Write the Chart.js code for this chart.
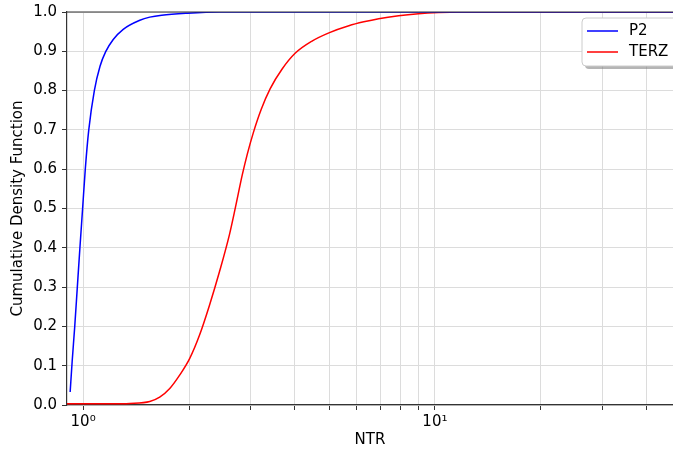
<!DOCTYPE html>
<html lang="en">
<head>
<meta charset="UTF-8">
<title>NTR CDF</title>
<script src="https://cdn.jsdelivr.net/npm/chart.js"></script>
<style>
    html, body { margin: 0; padding: 0; background: #fff; }
    #wrap { width: 673px; height: 455px; }
</style>
</head>
<body>
<div id="wrap"><canvas id="cdf"></canvas></div>
<script>
    // values
    const ntrP2 = [0.9188, 0.9308, 0.9468, 0.9629, 0.9794, 0.9968, 1.0144, 1.0378, 1.0764, 1.1171, 1.1594, 1.218, 1.3002, 1.4497, 1.547, 1.673, 1.982, 2.441, 3, 5, 10, 47.5];
    const cdfP2 = [0.033, 0.11, 0.2, 0.3, 0.4, 0.5, 0.6, 0.7, 0.8, 0.862, 0.899, 0.93, 0.956, 0.979, 0.987, 0.992, 0.997, 1.0, 1, 1, 1, 1];

    const ntrTerz = [0.9, 1.2, 1.358, 1.547, 1.651, 1.763, 1.881, 2.008, 2.143, 2.287, 2.441, 2.605, 2.709, 2.835, 2.929, 3.046, 3.209, 3.403, 3.679, 4.005, 4.473, 4.996, 5.692, 6.278, 6.92, 7.885, 8.98, 10.23, 11.65, 20, 47.5];
    const cdfTerz = [0.003, 0.003, 0.004, 0.009, 0.02, 0.042, 0.076, 0.118, 0.178, 0.254, 0.339, 0.433, 0.502, 0.586, 0.6385, 0.6925, 0.7525, 0.805, 0.855, 0.895, 0.926, 0.947, 0.965, 0.975, 0.983, 0.9905, 0.9955, 0.9985, 1.0, 1.0, 1.0];

    const xTicks = [1, 2, 3, 4, 5, 6, 7, 8, 9, 10, 20, 30, 40];
    const xTickLabels = { 1: '10\u2070', 10: '10\u00b9' };

    const font = 'DejaVu Sans';

    function toPoints(xs, ys) {
        return xs.map((x, i) => ({ x: x, y: ys[i] }));
    }

    // matplotlib-like legend box with shadow, plus the top spine
    const mplExtras = {
        id: 'mplExtras',
        afterDraw(chart) {
            const ctx = chart.ctx;
            const area = chart.chartArea;
            ctx.save();
            ctx.strokeStyle = '#333';
            ctx.lineWidth = 1.2;
            ctx.beginPath();
            ctx.moveTo(area.left, area.top);
            ctx.lineTo(area.right, area.top);
            ctx.stroke();

            const bx = 582, by = 18, bw = 100, bh = 48;
            ctx.fillStyle = 'rgba(120,120,120,0.55)';
            roundRect(ctx, bx + 3, by + 3, bw, bh, 4);
            ctx.fill();
            ctx.fillStyle = '#fff';
            ctx.strokeStyle = '#ccc';
            ctx.lineWidth = 1;
            roundRect(ctx, bx, by, bw, bh, 4);
            ctx.fill();
            ctx.stroke();

            ctx.font = '15px "' + font + '"';
            ctx.textBaseline = 'middle';
            chart.data.datasets.forEach((ds, i) => {
                const y = by + 13 + i * 21;
                ctx.strokeStyle = ds.borderColor;
                ctx.lineWidth = 1.5;
                ctx.beginPath();
                ctx.moveTo(bx + 5, y);
                ctx.lineTo(bx + 36, y);
                ctx.stroke();
                ctx.fillStyle = '#000';
                ctx.fillText(ds.label, bx + 47, y);
            });
            ctx.restore();
        }
    };

    function roundRect(ctx, x, y, w, h, r) {
        ctx.beginPath();
        ctx.moveTo(x + r, y);
        ctx.lineTo(x + w - r, y);
        ctx.quadraticCurveTo(x + w, y, x + w, y + r);
        ctx.lineTo(x + w, y + h - r);
        ctx.quadraticCurveTo(x + w, y + h, x + w - r, y + h);
        ctx.lineTo(x + r, y + h);
        ctx.quadraticCurveTo(x, y + h, x, y + h - r);
        ctx.lineTo(x, y + r);
        ctx.quadraticCurveTo(x, y, x + r, y);
        ctx.closePath();
    }

    new Chart(document.getElementById('cdf'), {
        type: 'line',
        data: {
            datasets: [
                {
                    label: 'P2',
                    data: toPoints(ntrP2, cdfP2),
                    borderColor: '#0000ff',
                    borderWidth: 1.5,
                    pointRadius: 0,
                    cubicInterpolationMode: 'monotone'
                },
                {
                    label: 'TERZ',
                    data: toPoints(ntrTerz, cdfTerz),
                    borderColor: '#ff0000',
                    borderWidth: 1.5,
                    pointRadius: 0,
                    cubicInterpolationMode: 'monotone'
                }
            ]
        },
        options: {
            responsive: true,
            maintainAspectRatio: false,
            animation: false,
            layout: { padding: { top: 12, right: 0, left: 0, bottom: 0 } },
            plugins: {
                legend: { display: false },
                tooltip: { enabled: false }
            },
            scales: {
                x: {
                    type: 'logarithmic',
                    min: 0.9,
                    max: 47.5,
                    afterBuildTicks(scale) {
                        scale.ticks = xTicks.map(v => ({ value: v, major: v === 1 || v === 10 }));
                    },
                    afterFit(scale) {
                        scale.height = 50;
                        scale.paddingLeft = 0;
                        scale.paddingRight = 0;
                    },
                    ticks: {
                        autoSkip: false,
                        maxRotation: 0,
                        padding: 3,
                        color: '#000',
                        font: { family: font, size: 15 },
                        callback: v => xTickLabels[v] || ''
                    },
                    grid: {
                        color: '#dcdcdc',
                        lineWidth: 1,
                        tickLength: 5,
                        tickColor: '#333'
                    },
                    border: { color: '#333', width: 1.2 },
                    title: {
                        display: true,
                        text: 'NTR',
                        color: '#000',
                        font: { family: font, size: 15 },
                        padding: { top: 0, bottom: 6 }
                    }
                },
                y: {
                    min: 0,
                    max: 1,
                    afterFit(scale) {
                        scale.width = 67;
                        scale.paddingTop = 0;
                        scale.paddingBottom = 0;
                    },
                    ticks: {
                        stepSize: 0.1,
                        padding: 5,
                        color: '#000',
                        font: { family: font, size: 15 },
                        callback: v => v.toFixed(1)
                    },
                    grid: {
                        color: '#dcdcdc',
                        lineWidth: 1,
                        tickLength: 5,
                        tickColor: '#333'
                    },
                    border: { color: '#333', width: 1.2 },
                    title: {
                        display: true,
                        text: 'Cumulative Density Function',
                        color: '#000',
                        font: { family: font, size: 15 },
                        padding: { top: 9, bottom: 0 }
                    }
                }
            }
        },
        plugins: [mplExtras]
    });
</script>
</body>
</html>
